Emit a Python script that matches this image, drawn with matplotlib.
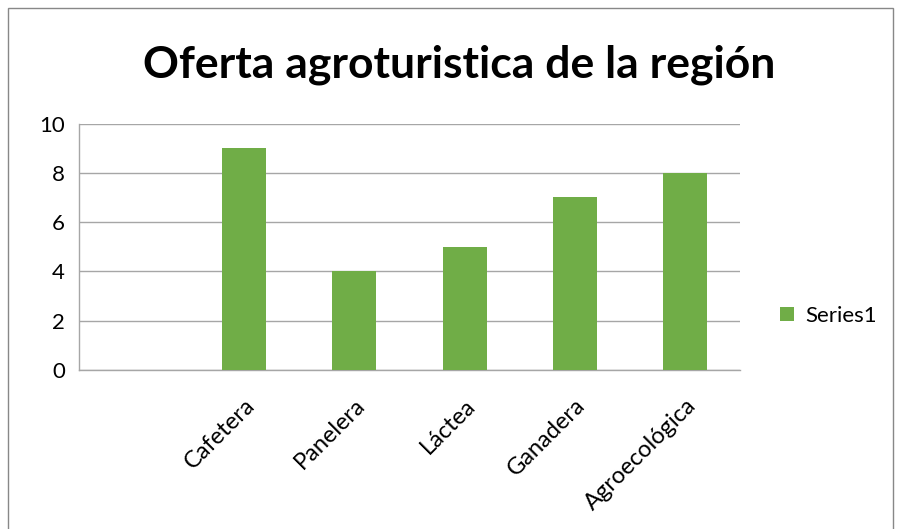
import matplotlib.pyplot as plt
from matplotlib.patches import Rectangle

# data
categories = ["", "Cafetera", "Panelera", "Láctea", "Ganadera", "Agroecológica"]
values = [0, 9, 4, 5, 7, 8]
yticks = [0, 2, 4, 6, 8, 10]

green = "#70AD47"
grid_c = "#A6A6A6"

plt.rcParams['font.family'] = ['Lato', 'DejaVu Sans']

fig = plt.figure(figsize=(8.97, 5.29), dpi=100)
ax = fig.add_axes([0.0881, 0.3006, 0.825 - 0.0881, 0.7665 - 0.3006])

x = list(range(len(categories)))
ax.bar(x, values, width=0.4, color=green, label="Series1", zorder=3)

ax.set_xlim(-0.5, len(categories) - 0.5)
ax.set_ylim(0, 10)
ax.set_yticks(yticks)
ax.set_yticklabels([str(t) for t in yticks], fontsize=16)
ax.set_xticks(x)
ax.set_xticklabels(categories, rotation=45, ha='right', rotation_mode='anchor', fontsize=17)
ax.tick_params(axis='both', length=0, pad=10)
ax.tick_params(axis='x', pad=18)

ax.yaxis.grid(True, color=grid_c, linewidth=1, zorder=0)
for s in ['top', 'right']:
    ax.spines[s].set_visible(False)
for s in ['left', 'bottom']:
    ax.spines[s].set_color(grid_c)
    ax.spines[s].set_linewidth(1)

fig.text(0.512, 0.877, "Oferta agroturistica de la región", ha='center', va='center',
         fontsize=32, fontweight='bold')

ax.legend(loc='center left', bbox_to_anchor=(1.03, 0.22), frameon=False, fontsize=16,
          handlelength=0.65, handleheight=0.65, handletextpad=0.5)

# chart border
fig.patches.append(Rectangle((0.009, -0.01), 0.987, 0.995, transform=fig.transFigure,
                             fill=False, edgecolor='#888888', linewidth=1))

fig.savefig("out.png", dpi=100)
